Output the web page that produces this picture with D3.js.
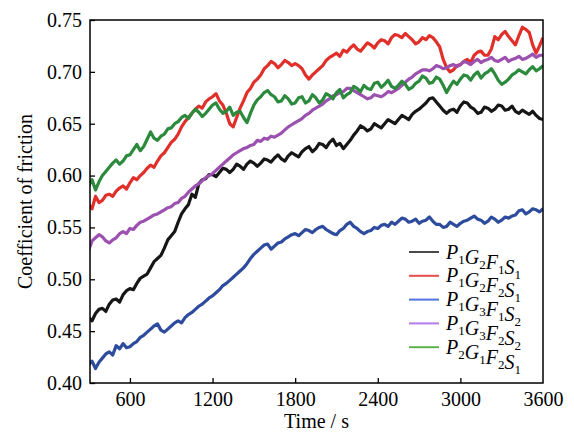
<!DOCTYPE html>
<html>
<head>
<meta charset="utf-8">
<script src="https://cdn.jsdelivr.net/npm/d3@7"></script>
<style>
  html, body { margin: 0; padding: 0; background: #fff; }
  svg { display: block; }
  svg text { font-family: "Liberation Serif", "Times New Roman", serif; }
</style>
</head>
<body>
<svg id="chart" width="574" height="432"></svg>
<script>
// Sampling times (s), one reading every 25 s
const times = d3.range(300, 3601, 25);

// Coefficient of friction for each specimen
const p1g2f1s1 = [
  .463,.460,.467,.471,.472,.469,.476,.480,.481,.478,
  .485,.489,.491,.490,.496,.501,.503,.505,.511,.517,
  .520,.523,.530,.538,.542,.546,.555,.563,.568,.572,
  .582,.579,.592,.596,.597,.601,.601,.599,.603,.607,
  .606,.603,.606,.611,.609,.606,.611,.614,.612,.609,
  .612,.616,.615,.613,.617,.620,.616,.614,.619,.622,
  .620,.618,.623,.626,.628,.623,.626,.631,.630,.627,
  .632,.635,.629,.631,.626,.630,.634,.639,.643,.648,
  .646,.643,.645,.650,.648,.646,.650,.654,.652,.650,
  .654,.658,.656,.654,.659,.662,.664,.667,.670,.674,
  .675,.671,.667,.663,.660,.663,.664,.661,.667,.671,
  .670,.666,.664,.660,.661,.666,.665,.662,.664,.668,
  .667,.663,.664,.667,.662,.660,.663,.661,.659,.662,
  .658,.655,.654];
const p1g2f2s1 = [
  .572,.568,.580,.574,.576,.581,.582,.580,.585,.588,
  .590,.587,.593,.598,.596,.600,.603,.607,.610,.608,
  .614,.619,.622,.627,.632,.635,.640,.647,.652,.656,
  .660,.664,.667,.665,.671,.674,.676,.679,.672,.668,
  .660,.650,.647,.656,.665,.672,.680,.684,.690,.693,
  .697,.703,.706,.710,.708,.704,.707,.711,.709,.706,
  .708,.706,.703,.697,.693,.697,.700,.703,.706,.711,
  .714,.716,.718,.715,.721,.719,.723,.726,.722,.720,
  .724,.728,.726,.723,.728,.731,.730,.727,.733,.736,
  .735,.733,.737,.734,.731,.727,.729,.733,.731,.735,
  .733,.729,.724,.712,.704,.700,.702,.706,.707,.710,
  .712,.709,.716,.719,.720,.716,.716,.722,.734,.731,
  .736,.739,.734,.730,.726,.735,.743,.741,.738,.726,
  .718,.725,.733];
const p1g3f1s2 = [
  .418,.421,.414,.420,.424,.428,.430,.427,.436,.433,
  .438,.434,.435,.438,.440,.444,.446,.449,.452,.455,
  .457,.451,.449,.452,.455,.458,.460,.458,.463,.466,
  .468,.471,.474,.476,.479,.482,.484,.487,.490,.494,
  .496,.499,.502,.505,.508,.511,.515,.520,.524,.527,
  .530,.533,.534,.529,.532,.535,.536,.539,.541,.543,
  .544,.542,.545,.548,.547,.545,.548,.550,.551,.548,
  .546,.544,.543,.547,.549,.553,.555,.551,.549,.546,
  .544,.546,.547,.550,.549,.552,.553,.551,.555,.553,
  .556,.559,.558,.555,.556,.558,.554,.556,.557,.560,
  .556,.553,.553,.550,.551,.555,.553,.551,.554,.556,
  .557,.559,.561,.558,.557,.554,.556,.560,.558,.555,
  .557,.560,.559,.561,.562,.566,.567,.563,.565,.568,
  .567,.565,.568];
const p1g3f2s2 = [
  .528,.537,.540,.543,.541,.537,.535,.538,.540,.544,
  .546,.544,.549,.548,.552,.555,.556,.558,.560,.562,
  .563,.565,.567,.569,.570,.573,.574,.578,.580,.584,
  .587,.590,.592,.595,.598,.600,.602,.605,.608,.611,
  .614,.617,.620,.622,.624,.626,.627,.629,.630,.634,
  .633,.636,.635,.638,.637,.639,.641,.644,.647,.649,
  .651,.653,.655,.658,.660,.663,.665,.667,.669,.672,
  .674,.677,.678,.680,.681,.684,.684,.682,.680,.678,
  .676,.674,.675,.678,.677,.676,.678,.681,.680,.682,
  .684,.687,.690,.693,.695,.698,.700,.702,.702,.701,
  .703,.706,.705,.703,.704,.706,.707,.705,.707,.710,
  .709,.707,.710,.712,.709,.711,.712,.714,.711,.710,
  .712,.714,.710,.712,.713,.715,.712,.713,.715,.717,
  .714,.716,.716];
const p2g1f2s1 = [
  .590,.596,.586,.594,.600,.604,.608,.612,.615,.611,
  .614,.619,.620,.625,.630,.624,.628,.635,.642,.636,
  .634,.638,.640,.645,.646,.650,.652,.656,.658,.655,
  .660,.664,.661,.657,.660,.664,.668,.670,.664,.660,
  .662,.666,.658,.661,.662,.656,.651,.660,.668,.673,
  .676,.680,.682,.678,.676,.671,.672,.677,.674,.669,
  .670,.675,.676,.670,.672,.678,.675,.670,.673,.679,
  .677,.674,.680,.683,.675,.678,.680,.686,.684,.681,
  .687,.684,.683,.689,.690,.685,.688,.692,.686,.684,
  .687,.691,.688,.683,.685,.689,.691,.696,.694,.689,
  .690,.695,.693,.687,.680,.686,.691,.688,.693,.697,
  .696,.692,.697,.700,.694,.698,.700,.703,.698,.692,
  .688,.690,.693,.697,.699,.702,.700,.698,.702,.705,
  .701,.703,.706];

// Legend labels: [letter, subscript] pairs
const labels = [
  [["P","1"],["G","2"],["F","1"],["S","1"]],
  [["P","1"],["G","2"],["F","2"],["S","1"]],
  [["P","1"],["G","3"],["F","1"],["S","2"]],
  [["P","1"],["G","3"],["F","2"],["S","2"]],
  [["P","2"],["G","1"],["F","2"],["S","1"]]
];
const seriesValues = [p1g2f1s1, p1g2f2s1, p1g3f1s2, p1g3f2s2, p2g1f2s1];
const lineColors   = ["#161616", "#e12f2a", "#2e4c9e", "#9c50b0", "#2b8a3c"];
const legendColors = ["#4a4a4a", "#e84b4b", "#5072e0", "#b37ae8", "#5db34b"];

const xTicks = [600, 1200, 1800, 2400, 3000, 3600];
const yTicks = [0.40, 0.45, 0.50, 0.55, 0.60, 0.65, 0.70, 0.75];

const margin = {left: 90, top: 20, right: 31, bottom: 49};
const W = 574, H = 432;
const FONT = "'Liberation Serif', 'Times New Roman', serif";
const svg = d3.select("#chart");

const x = d3.scaleLinear().domain([310, 3600]).range([margin.left, W - margin.right]);
const y = d3.scaleLinear().domain([0.40, 0.75]).range([H - margin.bottom, margin.top]);

svg.append("defs").append("clipPath").attr("id", "plotClip")
  .append("rect")
  .attr("x", margin.left).attr("y", margin.top)
  .attr("width", x.range()[1] - margin.left)
  .attr("height", y.range()[0] - margin.top);

// data lines
const line = d3.line().x((d, i) => x(times[i])).y(d => y(d));
const plot = svg.append("g").attr("clip-path", "url(#plotClip)");
seriesValues.forEach((vals, k) => {
  plot.append("path")
    .datum(vals)
    .attr("fill", "none")
    .attr("stroke", lineColors[k])
    .attr("stroke-width", 3.2)
    .attr("stroke-linejoin", "round")
    .attr("d", line);
});

// axes with inward ticks
const xAxis = svg.append("g")
  .attr("transform", `translate(0,${y.range()[0]})`)
  .call(d3.axisBottom(x).tickValues(xTicks).tickSizeInner(-5).tickSizeOuter(0).tickPadding(9).tickFormat(d3.format("d")));
const yAxis = svg.append("g")
  .attr("transform", `translate(${margin.left},0)`)
  .call(d3.axisLeft(y).tickValues(yTicks).tickSizeInner(-5).tickSizeOuter(0).tickPadding(8).tickFormat(d3.format(".2f")));

[xAxis, yAxis].forEach(g => {
  g.attr("font-family", FONT).attr("font-size", 20);
  g.select(".domain").remove();
  g.selectAll(".tick line").attr("stroke", "#000").attr("stroke-width", 1.3);
  g.selectAll(".tick text").attr("fill", "#000");
});
// the last tick mark would sit on the right frame
xAxis.selectAll(".tick").filter(d => d === 3600).select("line").remove();

// frame
svg.append("rect")
  .attr("x", margin.left).attr("y", margin.top)
  .attr("width", x.range()[1] - margin.left)
  .attr("height", y.range()[0] - margin.top)
  .attr("fill", "none").attr("stroke", "#000").attr("stroke-width", 1.5);

// axis titles
svg.append("text")
  .attr("x", (margin.left + x.range()[1]) / 2).attr("y", 428)
  .attr("text-anchor", "middle").attr("font-size", 20)
  .text("Time / s");
svg.append("text")
  .attr("transform", `translate(32,${(margin.top + y.range()[0]) / 2}) rotate(-90)`)
  .attr("text-anchor", "middle").attr("font-size", 20)
  .text("Coefficient of friction");

// legend
const legend = svg.append("g");
labels.forEach((parts, k) => {
  const cy = 252 + k * 23.8;
  legend.append("line")
    .attr("x1", 409).attr("x2", 439).attr("y1", cy).attr("y2", cy)
    .attr("stroke", legendColors[k]).attr("stroke-width", 2);
  const t = legend.append("text")
    .attr("x", 446).attr("y", cy + 6.5)
    .attr("font-size", 20).attr("font-style", "italic");
  parts.forEach(([letter, sub]) => {
    t.append("tspan").text(letter);
    t.append("tspan").attr("dy", 5).attr("font-size", 13).attr("font-style", "normal").text(sub);
    t.append("tspan").attr("dy", -5).text("");
  });
});
</script>
</body>
</html>
